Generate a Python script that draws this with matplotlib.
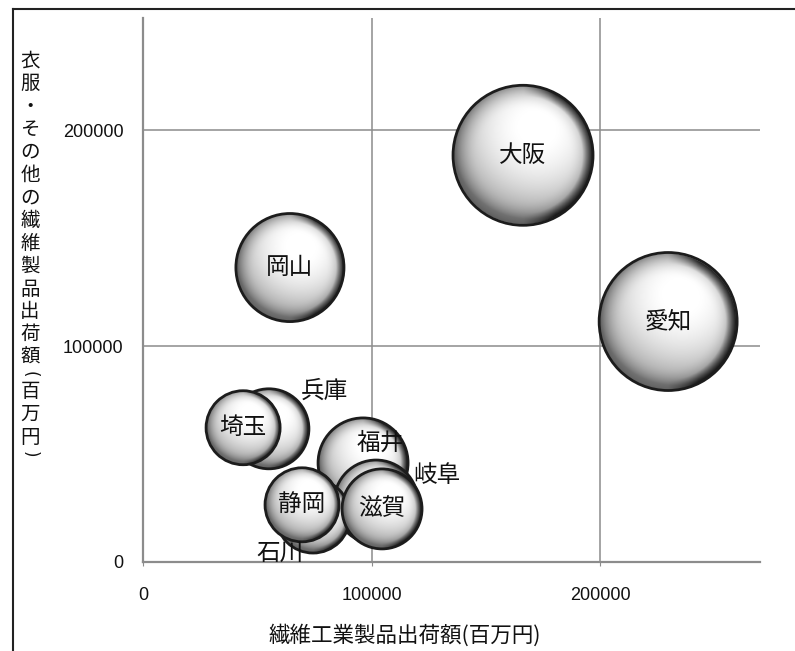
import numpy as np
import matplotlib
matplotlib.use('Agg')
import matplotlib.pyplot as plt
from matplotlib.lines import Line2D

plt.rcParams['font.family'] = ['Noto Sans CJK JP', 'DejaVu Sans']

# 都道府県別: 繊維工業製品出荷額 / 衣服・その他の繊維製品出荷額 (百万円)
prefs = ['大阪', '愛知', '岡山', '兵庫', '埼玉', '福井', '岐阜', '石川', '滋賀', '静岡']
textile = [166300, 229800, 64300, 55100, 43800, 96300, 102000, 74400, 104600, 69600]
clothing = [188400, 111400, 136400, 61700, 62200, 45900, 27800, 21300, 24600, 26500]
bubble = [4900, 4760, 2920, 1600, 1370, 2025, 1760, 1370, 1600, 1370]

xticks = [0, 100000, 200000]
yticks = [0, 100000, 200000]
xlabel = '繊維工業製品出荷額(百万円)'
ylabel = '衣服・その他の繊維製品出荷額(百万円)'

# label offsets in points (labels not placed at the bubble centre)
label_offset = {'兵庫': (40, 27), '福井': (12, 14), '岐阜': (44, 19), '石川': (-24, -27)}

W, H, DPI = 795, 651, 100
MAX_R = 70  # px radius of the largest bubble


def sphere_img(n=240):
    t = np.linspace(-1, 1, n)
    u, v = np.meshgrid(t, t[::-1])
    rr = np.sqrt(u ** 2 + v ** 2)
    z = np.sqrt(np.clip(1 - rr ** 2, 0, None))
    light = np.array([0.2, 0.4, 0.9])
    light = light / np.linalg.norm(light)
    d = np.clip(u * light[0] + v * light[1] + z * light[2], 0, 1)
    shade = 0.52 + 0.5 * d ** 0.9
    edge = np.clip((rr - 0.65) / 0.35, 0, 1)
    shade = shade * (1 - 0.3 * edge ** 2)
    rim = np.clip((rr - 0.84) / 0.16, 0, 1) * np.clip(u * 2.2, 0, 1)
    shade = np.clip(shade * (1 - 0.85 * rim), 0, 1)
    alpha = np.clip((1 - rr) * n / 2, 0, 1)
    return np.dstack([shade, shade, shade, alpha])


fig = plt.figure(figsize=(W / DPI, H / DPI), dpi=DPI)
ax = fig.add_axes([143 / W, (H - 562) / H, (760 - 143) / W, (562 - 18) / H])
ax.set_xlim(0, 270000)
ax.set_ylim(0, 252000)
ax.set_autoscale_on(False)

for s in ['top', 'right']:
    ax.spines[s].set_visible(False)
for s in ['left', 'bottom']:
    ax.spines[s].set_color('#8c8c8c')
    ax.spines[s].set_linewidth(1.6)

ax.set_xticks(xticks, [str(t) for t in xticks])
ax.set_yticks(yticks, [str(t) for t in yticks])
ax.tick_params(axis='x', length=3, color='#8c8c8c', pad=15, labelsize=13,
               labelcolor='#111111')
ax.tick_params(axis='y', length=0, pad=14, labelsize=13, labelcolor='#111111')
for lab in ax.get_xticklabels() + ax.get_yticklabels():
    lab.set_fontfamily(['Liberation Sans', 'DejaVu Sans'])
ax.grid(True, color='#8c8c8c', linewidth=1.1)
ax.set_axisbelow(True)

img = sphere_img()
vmax = max(bubble)
for i, (name, x, y, b) in enumerate(zip(prefs, textile, clothing, bubble)):
    r = MAX_R * np.sqrt(b / vmax)
    cx, cy = ax.transData.transform((x, y))
    x0, y0 = ax.transData.inverted().transform((cx - r, cy - r))
    x1, y1 = ax.transData.inverted().transform((cx + r, cy + r))
    z = 3 + i
    ax.imshow(img, extent=(x0, x1, y0, y1), aspect='auto',
              interpolation='bilinear', zorder=z)
    ax.scatter([x], [y], s=(2 * r * 72 / DPI) ** 2, facecolors='none',
               edgecolors='#1c1c1c', linewidths=2.0, zorder=z + 0.5)

for name, x, y in zip(prefs, textile, clothing):
    off = label_offset.get(name, (0, 0))
    ax.annotate(name, (x, y), xytext=off, textcoords='offset points',
                ha='center', va='center', fontsize=17, color='#111111',
                zorder=50)

ax.set_xlim(0, 270000)
ax.set_ylim(0, 252000)

# x axis title
fig.text(405 / W, 1 - 635 / H, xlabel, ha='center', va='center',
         fontsize=15.5, color='#111111')

# vertical y axis title, one character per row; brackets turned sideways
step = 22.8
ypos = 61
for ch in ylabel:
    if ch in '()':
        fig.text(30 / W, 1 - (ypos - step / 4) / H, ch, ha='center',
                 va='center', rotation=-90, fontsize=12, color='#111111',
                 family=['DejaVu Sans'])
        ypos += step / 2
    else:
        fig.text(30 / W, 1 - ypos / H, ch, ha='center', va='center',
                 fontsize=14, color='#111111')
        ypos += step

# frame of the original figure (top and left edge only)
fig.add_artist(Line2D([13 / W, 1], [1 - 9 / H, 1 - 9 / H], transform=fig.transFigure,
                      color='#222222', linewidth=1.5))
fig.add_artist(Line2D([13 / W, 13 / W], [1 - 9 / H, 0], transform=fig.transFigure,
                      color='#222222', linewidth=1.5))

fig.savefig('out.png', dpi=DPI)
